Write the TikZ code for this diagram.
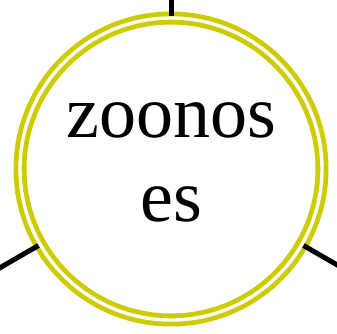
\documentclass[tikz,border=0pt]{standalone}
\usepackage{fontspec}
\setmainfont{Liberation Serif}
\usepackage{tikz}
\usetikzlibrary{positioning}
\definecolor{ringyellow}{RGB}{204,204,0}

\begin{document}
\begin{tikzpicture}[
    x=1pt, y=1pt,
    topic/.style={circle, draw=ringyellow, line width=4.8pt, double=white, double distance=3.4pt,
      minimum size=302pt, inner sep=0pt, outer sep=2pt, align=center,
      font=\fontsize{74}{84}\selectfont},
    link/.style={draw=black, line width=5pt}
  ]
    \useasboundingbox (0,0) rectangle (337,333);
    \node[topic] (zoo) at (171,164) {\rule{0pt}{47pt}zoonos\\es\strut};
    \coordinate (up) at ([shift={(90:250)}]zoo.center);
    \coordinate (leftdown) at ([shift={(210:250)}]zoo.center);
    \coordinate (rightdown) at ([shift={(330:250)}]zoo.center);

    \draw[link] (zoo) -- (up);
    \draw[link] (zoo) -- (leftdown);
    \draw[link] (zoo) -- (rightdown);
  \end{tikzpicture}
\end{document}
